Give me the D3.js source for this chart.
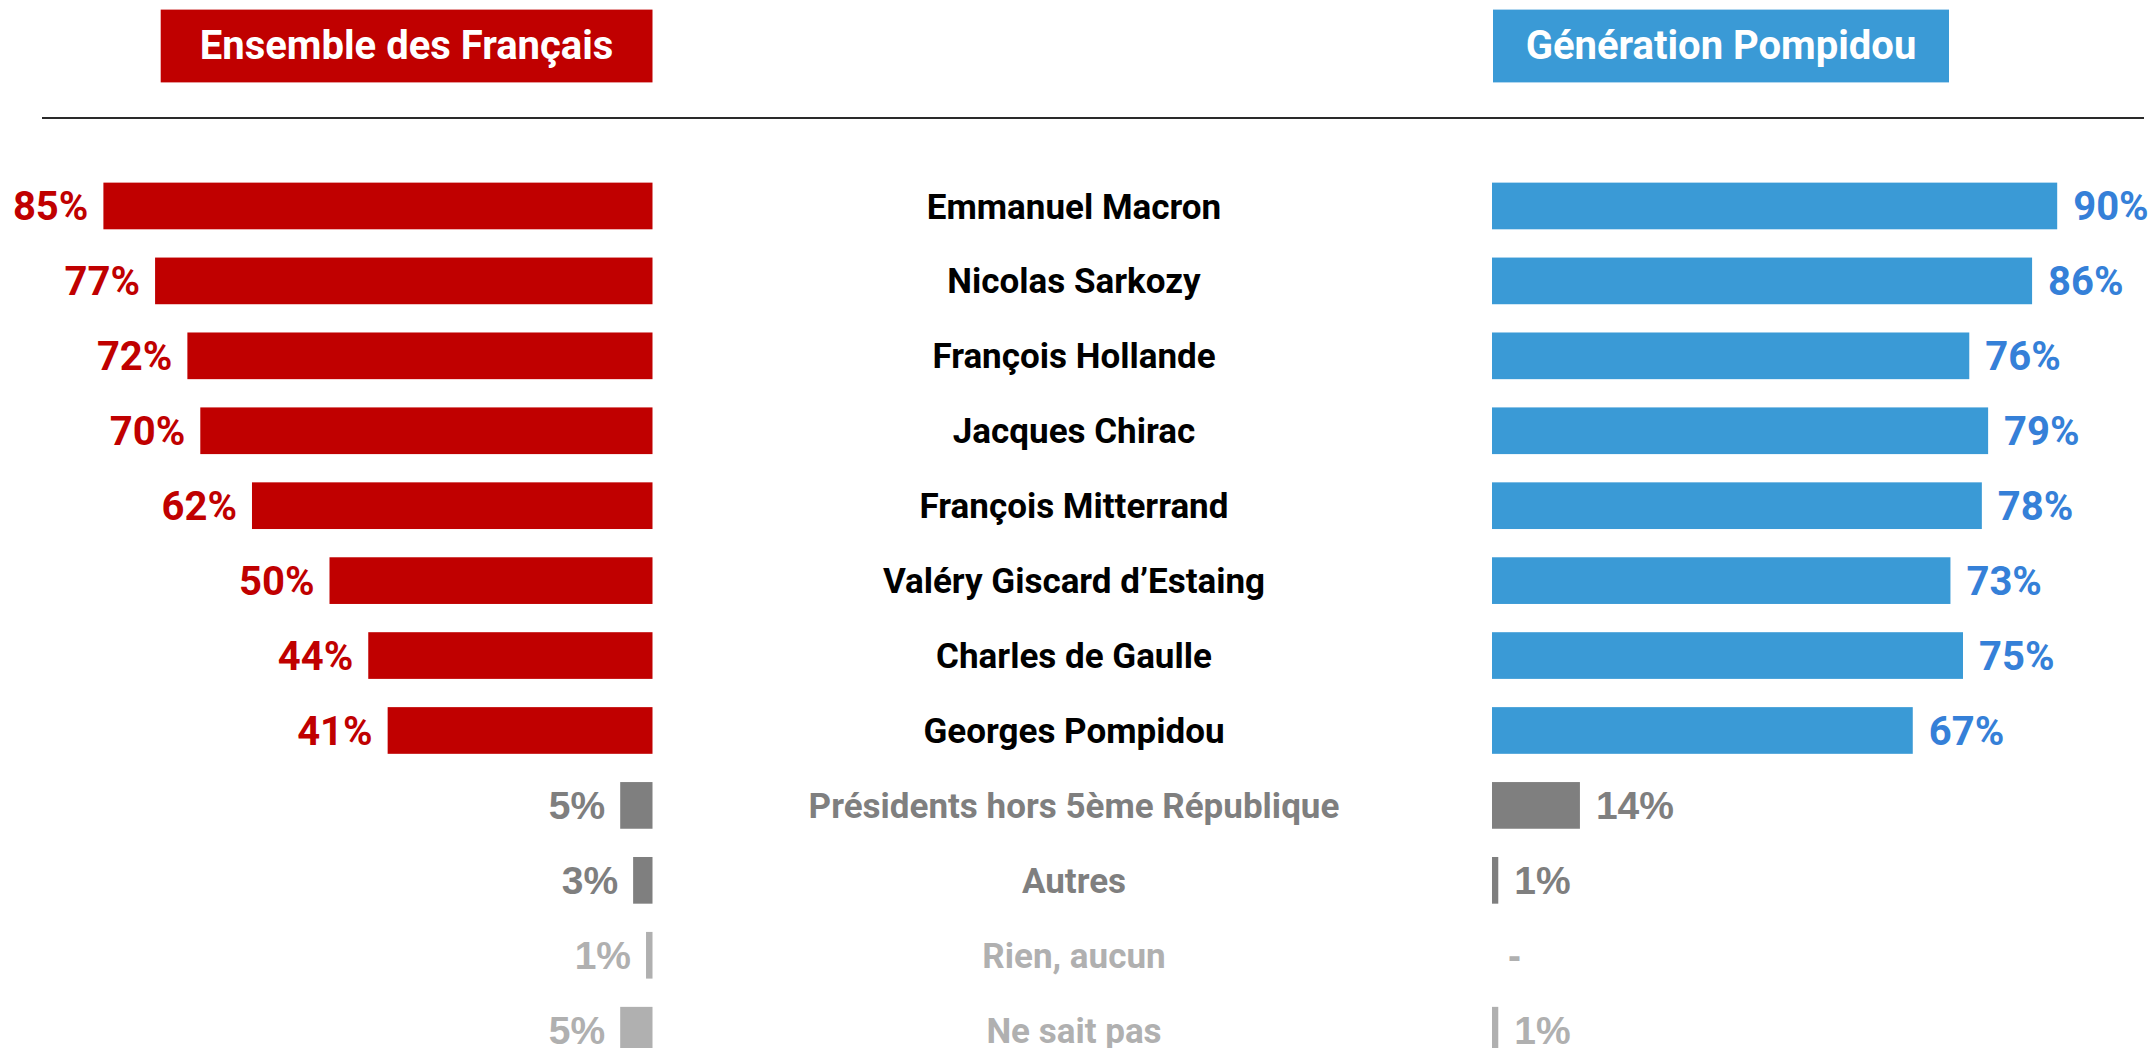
<!DOCTYPE html>
<html>
<head>
<meta charset="utf-8">
<script src="https://cdn.jsdelivr.net/npm/d3@7"></script>
<style>
  body { margin: 0; background: #fff; }
  text { font-family: Roboto, "Liberation Sans", sans-serif; font-weight: 700; }
</style>
</head>
<body>
<div id="chart"></div>
<script>
var categories = [
    "Emmanuel Macron",
    "Nicolas Sarkozy",
    "François Hollande",
    "Jacques Chirac",
    "François Mitterrand",
    "Valéry Giscard d’Estaing",
    "Charles de Gaulle",
    "Georges Pompidou",
    "Présidents hors 5ème République",
    "Autres",
    "Rien, aucun",
    "Ne sait pas"
];
var ensembleValues = [85, 77, 72, 70, 62, 50, 44, 41, 5, 3, 1, 5];
var pompidouValues = [90, 86, 76, 79, 78, 73, 75, 67, 14, 1, null, 1];
var rowTones = ["main", "main", "main", "main", "main", "main", "main", "main", "dark", "dark", "light", "light"];
var headers = ["Ensemble des Français", "Génération Pompidou"];

const width = 2154;
const height = 1048;

const toneColors = {
    dark: "#7f7f7f",
    light: "#b0b0b0"
};

const svg = d3.select("#chart").append("svg")
    .attr("width", width)
    .attr("height", height);

const rows = categories.map((c, i) => ({
    name: c,
    left: ensembleValues[i],
    right: pompidouValues[i],
    tone: rowTones[i]
}));

const yScale = d3.scaleBand()
    .domain(categories)
    .range([168.5, 168.5 + 74.93 * categories.length])
    .paddingInner(0.377)
    .paddingOuter(0.1885);

// left bars grow leftwards from x=652.5
const xLeft = d3.scaleLinear().domain([0, 100]).range([652.5, 6.5]);
const xRight = d3.scaleLinear().domain([0, 100]).range([1492, 2120]);

// headers
const headerBoxes = [
    { x: 160.7, w: 491.8, fill: "#c00000" },
    { x: 1493, w: 456, fill: "#3a9ad6" }
];
headerBoxes.forEach((b, i) => {
    svg.append("rect")
        .attr("x", b.x).attr("y", 9.6)
        .attr("width", b.w).attr("height", 72.8)
        .attr("fill", b.fill);
    svg.append("text")
        .attr("x", b.x + b.w / 2)
        .attr("y", 45)
        .attr("dy", "0.35em")
        .attr("text-anchor", "middle")
        .attr("fill", "#fff")
        .attr("font-size", 40)
        .text(headers[i]);
});

svg.append("line")
    .attr("x1", 42).attr("x2", 2144)
    .attr("y1", 118).attr("y2", 118)
    .attr("stroke", "#2a2a2a")
    .attr("stroke-width", 2);

const leftColor = d => d.tone === "main" ? "#c00000" : toneColors[d.tone];
const rightColor = d => d.tone === "main" ? "#3a9ad6" : toneColors[d.tone];
const rightLabelColor = d => d.tone === "main" ? "#3580d8" : toneColors[d.tone];
const nameColor = d => d.tone === "main" ? "#000" : toneColors[d.tone];

// grey rows use a wider face for the percentages
const pctFont = d => d.tone === "main" ? "Roboto, sans-serif" : "'Liberation Sans', Arial, sans-serif";
const pctSize = d => d.tone === "main" ? 40 : 39;

// left bars
svg.selectAll(".barLeft")
    .data(rows)
    .enter().append("rect")
    .attr("class", "barLeft")
    .attr("x", d => xLeft(d.left))
    .attr("y", d => yScale(d.name))
    .attr("width", d => xLeft(0) - xLeft(d.left))
    .attr("height", yScale.bandwidth())
    .attr("fill", leftColor);

svg.selectAll(".lblLeft")
    .data(rows)
    .enter().append("text")
    .attr("class", "lblLeft")
    .attr("x", d => xLeft(d.left) - 15)
    .attr("y", d => yScale(d.name) + yScale.bandwidth() / 2)
    .attr("dy", "0.36em")
    .attr("text-anchor", "end")
    .attr("font-size", pctSize)
    .style("font-family", pctFont)
    .attr("fill", leftColor)
    .text(d => d.left + "%");

// right bars
svg.selectAll(".barRight")
    .data(rows.filter(d => d.right !== null))
    .enter().append("rect")
    .attr("class", "barRight")
    .attr("x", xRight(0))
    .attr("y", d => yScale(d.name))
    .attr("width", d => xRight(d.right) - xRight(0))
    .attr("height", yScale.bandwidth())
    .attr("fill", rightColor);

svg.selectAll(".lblRight")
    .data(rows)
    .enter().append("text")
    .attr("class", "lblRight")
    .attr("x", d => xRight(d.right === null ? 0 : d.right) + 16)
    .attr("y", d => yScale(d.name) + yScale.bandwidth() / 2)
    .attr("dy", "0.36em")
    .attr("font-size", pctSize)
    .style("font-family", pctFont)
    .attr("fill", rightLabelColor)
    .text(d => d.right === null ? "-" : d.right + "%");

// category names in the middle
svg.selectAll(".name")
    .data(rows)
    .enter().append("text")
    .attr("class", "name")
    .attr("x", 1074)
    .attr("y", d => yScale(d.name) + yScale.bandwidth() / 2)
    .attr("dy", "0.36em")
    .attr("text-anchor", "middle")
    .attr("font-size", 35)
    .attr("fill", nameColor)
    .text(d => d.name);
</script>
</body>
</html>
